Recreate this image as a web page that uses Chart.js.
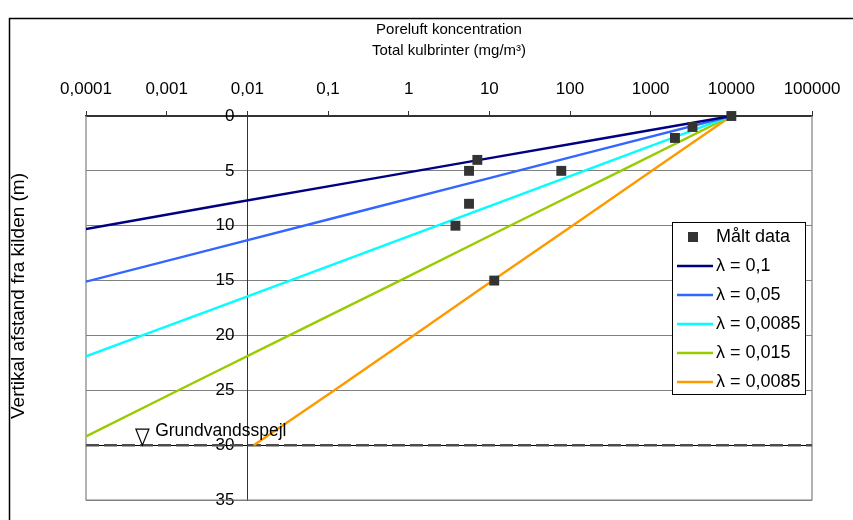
<!DOCTYPE html>
<html><head><meta charset="utf-8">
<script src="https://cdn.jsdelivr.net/npm/chart.js@4.4.0/dist/chart.umd.min.js"></script>
<style>html,body{margin:0;padding:0;background:#fff}#wrap{width:853px;height:520px;position:relative}</style>
</head><body><div id="wrap"><canvas id="c" width="853" height="520"></canvas></div>
<script>
// ---- data ----
const xTickValues = [0.0001, 0.001, 0.01, 0.1, 1, 10, 100, 1000, 10000, 100000];
const xTickLabels = ['0,0001', '0,001', '0,01', '0,1', '1', '10', '100', '1000', '10000', '100000'];
const yTickValues = [0, 5, 10, 15, 20, 25, 30, 35];

const measuredConc  = [10000, 3300, 2000, 78, 7.1, 5.6, 5.6, 3.8, 11.5];
const measuredDepth = [0, 1, 2, 5, 4, 5, 8, 10, 15];

const seriesLabels = ['λ = 0,1', 'λ = 0,05', 'λ = 0,0085', 'λ = 0,015', 'λ = 0,0085'];
const lam1Depth = [0, 2, 4, 6, 8, 10.3];
const lam1Conc  = [10000, 275, 7.6, 0.21, 0.0058, 0.0001];
const lam2Depth = [0, 3, 6, 9, 12, 15.1];
const lam2Conc  = [10000, 257, 6.6, 0.17, 0.0044, 0.0001];
const lam3Depth = [0, 4, 8, 12, 16, 20, 21.9];
const lam3Conc  = [10000, 347, 12, 0.42, 0.0145, 0.0005, 0.0001];
const lam4Depth = [0, 5, 10, 15, 20, 25, 29.2];
const lam4Conc  = [10000, 427, 18, 0.78, 0.033, 0.0014, 0.0001];
const lam5Depth = [0, 5, 10, 15, 20, 25, 30];
const lam5Conc  = [10000, 1035, 107, 11, 1.15, 0.12, 0.012];

const waterTableDepth = 30;
const waterTableX = [0.0001, 100000];
const waterLabel = 'Grundvandsspejl';
const waterMarkerX = 0.0005;
const waterLabelX = 0.00072;

const xTitle = ['Poreluft koncentration', 'Total kulbrinter (mg/m³)'];
const yTitle = 'Vertikal afstand fra kilden (m)';
const measuredLabel = 'Målt data';
// --------------------------------------

const FONT = "'Liberation Sans', Arial, sans-serif";
const colors = ['#000080', '#3366FF', '#00FFFF', '#99CC00', '#FF9900'];
const pts = (xs, ys) => xs.map((v, i) => ({x: v, y: ys[i]}));
const lineSets = [[lam1Conc, lam1Depth], [lam2Conc, lam2Depth], [lam3Conc, lam3Depth], [lam4Conc, lam4Depth], [lam5Conc, lam5Depth]];

const datasets = [{
  label: measuredLabel, data: pts(measuredConc, measuredDepth), showLine: false, clip: false,
  pointStyle: 'rect', pointRadius: 7, pointHoverRadius: 7, backgroundColor: '#333333', borderColor: '#333333', borderWidth: 0, order: 0
}];
lineSets.forEach((s, i) => datasets.push({
  label: seriesLabels[i], data: pts(s[0], s[1]), showLine: true, borderColor: colors[i], backgroundColor: colors[i],
  borderWidth: 2.4, pointRadius: 0, pointHoverRadius: 0, tension: 0, order: 1 + i
}));
datasets.push({
  label: waterLabel, data: pts(waterTableX, waterTableX.map(() => waterTableDepth)), showLine: true,
  borderColor: '#4d4d4d', borderWidth: 2.5, borderDash: [13, 5], pointRadius: 0, order: 10
});

const decor = {
  id: 'decor',
  beforeDraw(chart) {
    const ctx = chart.ctx;
    ctx.save();
    ctx.fillStyle = '#fff'; ctx.fillRect(0, 0, chart.width, chart.height);
    ctx.strokeStyle = '#000'; ctx.lineWidth = 1.5;
    ctx.strokeRect(9.5, 18.5, 900, 600);
    ctx.restore();
    // move the y tick labels to the left of the axis line placed at x = 0.01
    const ys = chart.scales.y;
    const items = ys.getLabelItems(chart.chartArea);
    if (!ys._shifted) {
      items.forEach(it => { it.options.translation[0] -= 13; });
      ys._shifted = true;
    }
  },
  beforeDatasetsDraw(chart) {
    const ctx = chart.ctx, a = chart.chartArea;
    ctx.save();
    ctx.strokeStyle = '#808080'; ctx.lineWidth = 1.2;
    ctx.beginPath();
    ctx.moveTo(a.left, a.top); ctx.lineTo(a.left, a.bottom); ctx.lineTo(a.right, a.bottom); ctx.lineTo(a.right, a.top);
    ctx.stroke();
    // y title
    ctx.fillStyle = '#000'; ctx.font = '19px ' + FONT;
    ctx.translate(19, 296);
    ctx.rotate(-Math.PI / 2);
    ctx.textAlign = 'center'; ctx.textBaseline = 'middle';
    ctx.fillText(yTitle, 0, 0);
    ctx.restore();
  },
  afterDatasetsDraw(chart) {
    const ctx = chart.ctx, xs = chart.scales.x, ys = chart.scales.y;
    ctx.save();
    // water table marker and label
    const wy = ys.getPixelForValue(waterTableDepth);
    const mx = xs.getPixelForValue(waterMarkerX);
    ctx.beginPath();
    ctx.moveTo(mx - 6.5, wy - 16); ctx.lineTo(mx + 6.5, wy - 16); ctx.lineTo(mx, wy); ctx.closePath();
    ctx.fillStyle = '#fff'; ctx.fill();
    ctx.strokeStyle = '#000'; ctx.lineWidth = 1.2; ctx.stroke();
    ctx.fillStyle = '#000'; ctx.font = '17.5px ' + FONT; ctx.textBaseline = 'middle'; ctx.textAlign = 'left';
    ctx.fillText(waterLabel, xs.getPixelForValue(waterLabelX), wy - 14);
    // legend
    const lx = 672, ly = 222, lw = 133, lh = 172;
    ctx.fillStyle = '#fff'; ctx.fillRect(lx, ly, lw, lh);
    ctx.strokeStyle = '#000'; ctx.lineWidth = 1; ctx.strokeRect(lx + 0.5, ly + 0.5, lw, lh);
    const items = chart.data.datasets.slice(0, 6);
    ctx.font = '18px ' + FONT;
    items.forEach((d, i) => {
      const cy = 237 + i * 29;
      if (i === 0) {
        ctx.fillStyle = d.backgroundColor; ctx.fillRect(688, cy - 5, 10, 10);
      } else {
        ctx.strokeStyle = d.borderColor; ctx.lineWidth = 2.4;
        ctx.beginPath(); ctx.moveTo(677, cy); ctx.lineTo(713, cy); ctx.stroke();
      }
      ctx.fillStyle = '#000';
      ctx.fillText(d.label, 716, cy);
    });
    ctx.restore();
  }
};

new Chart(document.getElementById('c'), {
  type: 'scatter',
  data: {datasets},
  options: {
    responsive: false, animation: false, devicePixelRatio: 1,
    layout: {padding: {left: 86, right: 41, top: 0, bottom: 20}},
    plugins: {legend: {display: false}, tooltip: {enabled: false}},
    scales: {
      x: {
        type: 'logarithmic', position: 'top', min: 0.0001, max: 100000,
        afterBuildTicks: s => { s.ticks = xTickValues.map(v => ({value: v})); },
        afterFit: s => { s.height = 116; },
        ticks: {callback: (v, i) => xTickLabels[i], font: {size: 17, family: FONT}, color: '#000', padding: 11, maxRotation: 0, autoSkip: false},
        grid: {drawOnChartArea: false, drawTicks: true, tickLength: 5, color: '#333', lineWidth: 1},
        border: {color: '#333', width: 1.5},
        title: {display: true, text: xTitle, font: {size: 15, family: FONT, lineHeight: 1.4}, color: '#000', padding: {top: 19, bottom: 0}}
      },
      y: {
        type: 'linear', position: {x: 0.01}, reverse: true, min: 0, max: 35,
        afterBuildTicks: s => { s.ticks = yTickValues.map(v => ({value: v})); },
        ticks: {font: {size: 17, family: FONT}, color: '#000', padding: 2},
        grid: {color: c => (c.tick && c.tick.value === 30) ? '#000' : (c.tick && c.tick.value === 0 ? '#333' : '#808080'), lineWidth: 1, tickLength: 4, drawTicks: true},
        border: {color: '#333', width: 1}
      }
    }
  },
  plugins: [decor]
});
</script>
</body></html>
